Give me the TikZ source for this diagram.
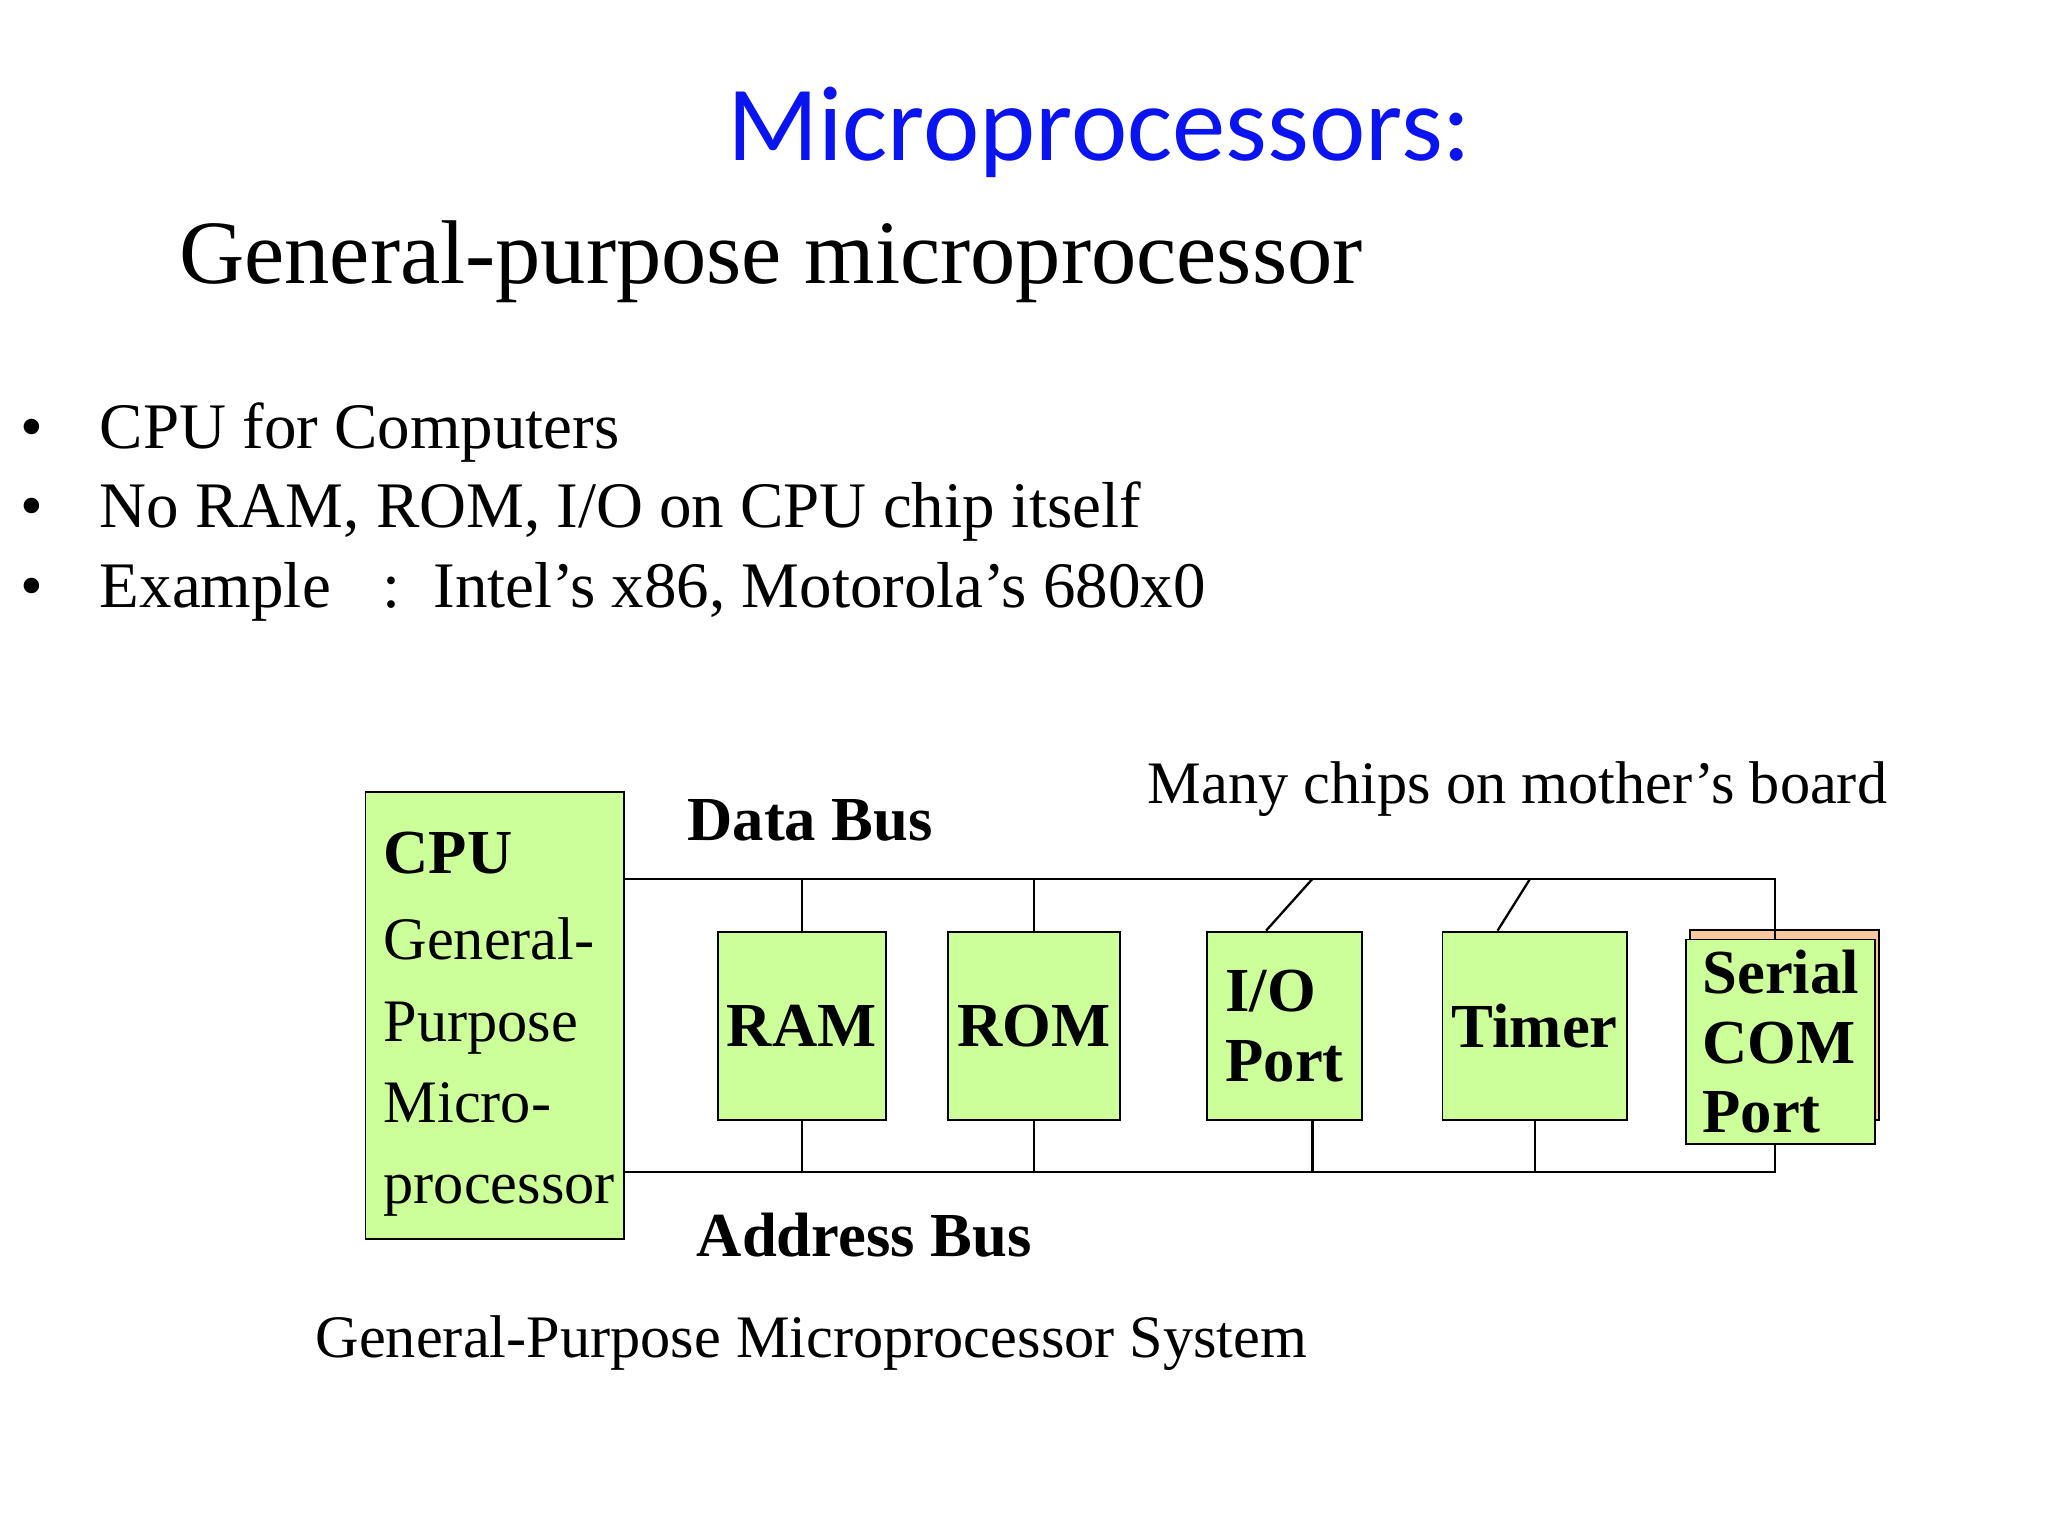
\documentclass[tikz,border=0pt]{standalone}
\usepackage{fontspec}
\setmainfont{Liberation Serif}
\newfontfamily\titlefont{Carlito}
\usetikzlibrary{positioning}
\definecolor{chipgreen}{HTML}{CCFF99}
\definecolor{chipblue}{HTML}{0A14F0}
\definecolor{peach}{HTML}{F8C8A0}
\tikzset{
  chip/.style={draw, rectangle, fill=chipgreen, minimum height=1.43cm, inner sep=2pt, font=\fontsize{13.5}{15}\selectfont\bfseries},
  bus/.style={line width=0.5pt},
  txt/.style={inner sep=0pt, anchor=base west},
}
\begin{document}
\begin{tikzpicture}[x=0.01cm, y=-0.01cm]
        \useasboundingbox (0,0) rectangle (1552,1164);
        % headings
        \node[inner sep=0pt, text=chipblue, font=\titlefont\fontsize{23}{26}\selectfont] (title) at (833,100) {Microprocessors:};
        \node[txt, font=\fontsize{19.5}{22}\selectfont] (sub) at (135,215) {General-purpose microprocessor};
        \node[txt, font=\fontsize{14}{16}\selectfont] (b1) at (75,340) {CPU for Computers};
        \node[txt, font=\fontsize{14}{16}\selectfont] (b2) at (75,400) {No RAM, ROM, I/O on CPU chip itself};
        \node[txt, font=\fontsize{14}{16}\selectfont] (b3) at (75,460) {Example\hspace{0.8em}:\hspace{0.5em}Intel’s x86, Motorola’s 680x0};
        \node[txt, font=\fontsize{14}{16}\selectfont] (d1) at (15,340) {•};
        \node[txt, font=\fontsize{14}{16}\selectfont] (d2) at (15,400) {•};
        \node[txt, font=\fontsize{14}{16}\selectfont] (d3) at (15,460) {•};

        % CPU
        \node[draw, fill=chipgreen, minimum width=1.96cm, minimum height=3.39cm] (cpu) at (375,769.5) {};
        \node[txt, font=\fontsize{13.5}{15}\selectfont\bfseries] (cpul) at (290,662) {CPU};
        \node[anchor=north west, inner sep=0pt, align=left, font=\fontsize{13}{17.5}\selectfont] (cput) at (290,695) {General-\\Purpose\\Micro-\\processor};

        % chips
        \node[chip, minimum width=1.17cm] (ram) at (607.5,777.5) {RAM};
        \node[chip, minimum width=1.17cm] (rom) at (783.5,777.5) {ROM};
        \node[chip, minimum width=1.17cm, align=left] (io) at (973.5,777.5) {I/O\\Port};
        \node[chip, minimum width=1.30cm] (tmr) at (1163,777.5) {Timer};
        \node[draw=black, fill=peach, minimum width=1.43cm, minimum height=1.44cm] (serb) at (1352.5,777) {};
        \node[chip, minimum width=1.43cm, minimum height=1.55cm, align=left] (ser) at (1349.5,789.5) {Serial\\COM\\Port};

        % buses
        \coordinate (db) at (473,666);
        \coordinate (ab) at (473,888);
        \coordinate (dbe) at (1345,666);
        \coordinate (abe) at (1345,888);
        \draw[bus] (db) -- (dbe) -- (dbe |- ser.north);
        \draw[bus] (ab) -- (abe) -- (abe |- ser.south);
        \draw[bus] (ram.north) -- (ram.north |- db);
        \draw[bus] (rom.north) -- (rom.north |- db);
        \draw[bus] ([xshift=-4]io.north) -- ([xshift=6]io.north |- db);
        \draw[bus] ([xshift=-8]tmr.north) -- ([xshift=-1]tmr.north |- db);
        \draw[bus] (ram.south) -- (ram.south |- ab);
        \draw[bus] (rom.south) -- (rom.south |- ab);
        \draw[bus] ([xshift=6]io.south) -- ([xshift=6]io.south |- ab);
        \draw[bus] (tmr.south) -- (tmr.south |- ab);

        % labels
        \node[font=\fontsize{13.5}{15}\selectfont\bfseries, inner sep=0pt] (dbl) at (614,622) {Data Bus};
        \node[font=\fontsize{13.5}{15}\selectfont\bfseries, inner sep=0pt] (abl) at (655,936) {Address Bus};
        \node[font=\fontsize{13}{15}\selectfont, inner sep=0pt] (mcl) at (1150,598) {Many chips on mother’s board};
        \node[font=\fontsize{13}{15}\selectfont, inner sep=0pt] (sysl) at (615,1018) {General-Purpose Microprocessor System};
\end{tikzpicture}
\end{document}
